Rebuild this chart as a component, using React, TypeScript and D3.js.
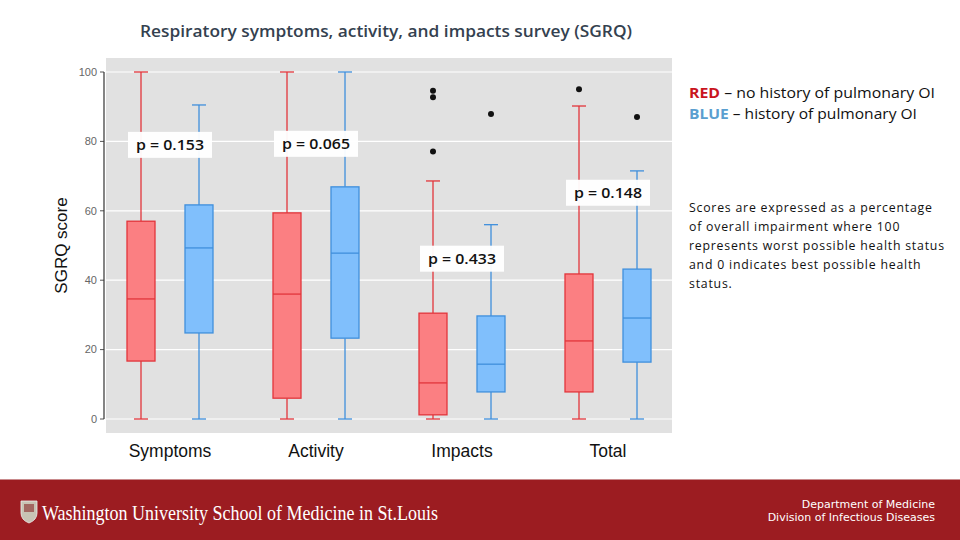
import * as d3 from "d3";

/* ------------------------------------------------------------------ */
/*  Data                                     */
/* ------------------------------------------------------------------ */

const categories = ["Symptoms", "Activity", "Impacts", "Total"];
const yTicks = [0, 20, 40, 60, 80, 100];

// red = no history of pulmonary OI
const redLow = [0, 0, 0, 0];
const redQ1 = [16.7, 6, 1.2, 7.8];
const redMedian = [34.6, 36, 10.4, 22.5];
const redQ3 = [57, 59.4, 30.5, 41.8];
const redHigh = [100, 100, 68.6, 90.2];
const redOutliers = [[], [], [94.6, 92.7, 77.1], [95]];

// blue = history of pulmonary OI
const blueLow = [0, 0, 0, 0];
const blueQ1 = [24.8, 23.3, 7.8, 16.4];
const blueMedian = [49.3, 47.8, 15.8, 29.1];
const blueQ3 = [61.7, 66.9, 29.7, 43.2];
const blueHigh = [90.5, 100, 56, 71.5];
const blueOutliers = [[], [], [87.9], [87]];

const pLabels = ["p = 0.153", "p = 0.065", "p = 0.433", "p = 0.148"];
const pLevels = [79, 79.3, 46.2, 65.2];

const paragraph = [
  "Scores are expressed as a percentage",
  "of overall impairment where 100",
  "represents worst possible health status",
  "and 0 indicates best possible health",
  "status.",
];

/* ------------------------------------------------------------------ */
/*  Layout                                                            */
/* ------------------------------------------------------------------ */

const W = 960;
const H = 540;
const panel = { x1: 106, x2: 672, y1: 58, y2: 433 };

const x = d3.scaleBand().domain(categories).range([97, 681]);
const y = d3.scaleLinear().domain([0, 100]).range([419, 72]);

const BOX_W = 28;
const OFFSET = 29;

const series = [
  { key: "red", fill: "#fb7f82", stroke: "#e2353b", dx: -OFFSET, low: redLow, q1: redQ1, med: redMedian, q3: redQ3, high: redHigh, out: redOutliers },
  { key: "blue", fill: "#80bffc", stroke: "#3f8fdc", dx: OFFSET, low: blueLow, q1: blueQ1, med: blueMedian, q3: blueQ3, high: blueHigh, out: blueOutliers },
];

const sans = "'Open Sans', 'Noto Sans', sans-serif";
const arial = "Arial, 'Liberation Sans', sans-serif";

export default function App() {
  const cx = (c: string) => (x(c) ?? 0) + x.bandwidth() / 2;

  return (
    <div style={{ position: "fixed", left: 0, top: 0 }}>
      <svg width={W} height={H} style={{ display: "block", background: "#fff" }}>
        {/* title */}
        <text x={386} y={37} textAnchor="middle" fontFamily={sans} fontSize={16} fontWeight={600} fill="#34414f"
          textLength={492} lengthAdjust="spacingAndGlyphs">
          Respiratory symptoms, activity, and impacts survey (SGRQ)
        </text>

        {/* plot panel */}
        <rect x={panel.x1} y={panel.y1} width={panel.x2 - panel.x1} height={panel.y2 - panel.y1} fill="#e1e1e1" />
        {yTicks.map((t) => (
          <g key={t}>
            <line x1={panel.x1} x2={panel.x2} y1={y(t)} y2={y(t)} stroke="#fff" strokeWidth={1.2} />
            <line x1={100} x2={104} y1={y(t)} y2={y(t)} stroke="#555" />
            <text x={97} y={y(t)} dy="0.35em" textAnchor="end" fontFamily={arial} fontSize={11} fill="#666">
              {t}
            </text>
          </g>
        ))}
        <line x1={104} x2={104} y1={y(100)} y2={y(0)} stroke="#333" strokeWidth={1.2} />
        <text
          transform={`translate(67,${(y(0) + y(100)) / 2}) rotate(-90)`}
          textAnchor="middle"
          fontFamily={arial}
          fontSize={17}
          fill="#111"
        >
          SGRQ score
        </text>

        {/* category labels */}
        {categories.map((c) => (
          <text key={c} x={cx(c)} y={457} textAnchor="middle" fontFamily={arial} fontSize={17.5} fill="#111">
            {c}
          </text>
        ))}

        {/* boxes */}
        {series.map((s) =>
          categories.map((c, i) => {
            const bx = cx(c) + s.dx;
            return (
              <g key={s.key + c}>
                <line x1={bx} x2={bx} y1={y(s.high[i])} y2={y(s.q3[i])} stroke={s.stroke} strokeWidth={1.3} />
                <line x1={bx} x2={bx} y1={y(s.q1[i])} y2={y(s.low[i])} stroke={s.stroke} strokeWidth={1.3} />
                <line x1={bx - 7} x2={bx + 7} y1={y(s.high[i])} y2={y(s.high[i])} stroke={s.stroke} strokeWidth={1.3} />
                <line x1={bx - 7} x2={bx + 7} y1={y(s.low[i])} y2={y(s.low[i])} stroke={s.stroke} strokeWidth={1.3} />
                <rect
                  x={bx - BOX_W / 2}
                  y={y(s.q3[i])}
                  width={BOX_W}
                  height={y(s.q1[i]) - y(s.q3[i])}
                  fill={s.fill}
                  stroke={s.stroke}
                  strokeWidth={1.3}
                />
                <line x1={bx - BOX_W / 2} x2={bx + BOX_W / 2} y1={y(s.med[i])} y2={y(s.med[i])} stroke={s.stroke} strokeWidth={1.3} />
                {s.out[i].map((o, j) => (
                  <circle key={j} cx={bx} cy={y(o)} r={3} fill="#111" />
                ))}
              </g>
            );
          })
        )}

        {/* p-value labels */}
        {categories.map((c, i) => {
          const px = cx(c);
          const py = y(pLevels[i]);
          return (
            <g key={"p" + c}>
              <rect x={px - 42} y={py - 13} width={84} height={26} fill="#fff" opacity={0.95} />
              <text x={px} y={py} dy="0.36em" textAnchor="middle" fontFamily={sans} fontSize={14} fontWeight={600} fill="#111"
                textLength={68} lengthAdjust="spacingAndGlyphs">
                {pLabels[i]}
              </text>
            </g>
          );
        })}

        {/* legend */}
        <text x={689} y={98} fontFamily={sans} fontSize={14} fill="#111" textLength={246} lengthAdjust="spacingAndGlyphs">
          <tspan fontWeight={700} fill="#c9151e">RED</tspan>
          <tspan> – no history of pulmonary OI</tspan>
        </text>
        <text x={689} y={119} fontFamily={sans} fontSize={14} fill="#111" textLength={228} lengthAdjust="spacingAndGlyphs">
          <tspan fontWeight={700} fill="#5a9fd0">BLUE</tspan>
          <tspan> – history of pulmonary OI</tspan>
        </text>

        {paragraph.map((line, i) => (
          <text key={i} x={689} y={212 + i * 19} fontFamily={sans} fontSize={12.3} fill="#111" letterSpacing={0.78}>
            {line}
          </text>
        ))}

        {/* footer */}
        <rect x={0} y={479} width={W} height={61} fill="#9c1c21" />
        <line x1={0} x2={W} y1={479.5} y2={479.5} stroke="#c98a8c" strokeWidth={1} />
        <g transform="translate(21,501)">
          <path d="M0,0 H16 V12 Q16,19 8,22 Q0,19 0,12 Z" fill="#c8c3b4" stroke="#eee" strokeWidth={0.8} />
          <rect x={3} y={3} width={10} height={8} fill="#8a2a2a" opacity={0.6} />
        </g>
        <text
          x={42}
          y={520}
          fontFamily="'Liberation Serif', 'DejaVu Serif', serif"
          fontSize={22}
          fill="#fff"
          textLength={396}
          lengthAdjust="spacingAndGlyphs"
        >
          Washington University School of Medicine in St.Louis
        </text>
        <text x={935} y={508} textAnchor="end" fontFamily="'DejaVu Sans', sans-serif" fontSize={11} fill="#fff">
          Department of Medicine
        </text>
        <text x={935} y={521} textAnchor="end" fontFamily="'DejaVu Sans', sans-serif" fontSize={11} fill="#fff">
          Division of Infectious Diseases
        </text>
      </svg>
    </div>
  );
}
